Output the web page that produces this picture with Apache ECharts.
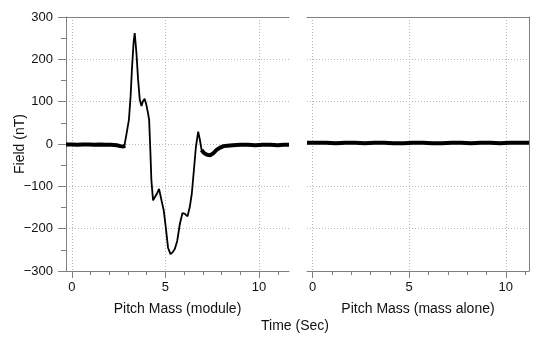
<!DOCTYPE html>
<html>
<head>
<meta charset="utf-8">
<script src="https://cdn.jsdelivr.net/npm/echarts@6/dist/echarts.min.js"></script>
<style>
html,body{margin:0;padding:0;background:#fff;}
#chart{width:550px;height:345px;}
</style>
</head>
<body>
<div id="chart"></div>
<script>
// ---- data ----
var leftStartTime = [-0.31, 0, 0.3, 0.6, 0.9, 1.2, 1.5, 1.8, 2.1, 2.4, 2.6, 2.75, 2.85];
var leftStartField = [-1, -1, -2, -1, -1, -2, -1, -2, -2, -3, -5, -6, -4];

var leftPulseTime = [2.8, 2.91, 3.05, 3.14, 3.21, 3.3, 3.36, 3.45, 3.54, 3.63, 3.72, 3.8, 3.89, 3.98, 4.07, 4.13, 4.2, 4.25, 4.34, 4.43, 4.55, 4.66, 4.79, 4.91, 5.02, 5.14, 5.27, 5.38, 5.5, 5.63, 5.77, 5.91, 6.04, 6.18, 6.3, 6.41, 6.52, 6.63, 6.75, 6.84, 6.93, 7.0];
var leftPulseField = [-6, 21, 57, 113, 176, 240, 262, 216, 152, 105, 90, 101, 107, 93, 73, 57, -22, -86, -133, -137, -117, -106, -133, -157, -197, -245, -260, -256, -248, -229, -189, -163, -165, -171, -149, -117, -62, -6, 29, 10, -14, -18];

var leftTailTime = [6.93, 7.05, 7.2, 7.38, 7.55, 7.73, 7.9, 8.1, 8.3, 8.6, 9.0, 9.4, 9.8, 10.2, 10.6, 11.0, 11.3, 11.6];
var leftTailField = [-14, -21, -25, -27, -22, -14, -9, -5, -4, -3, -2, -2, -3, -2, -2, -3, -2, -2];

var rightTime = [-0.29, 0.2, 0.7, 1.2, 1.7, 2.2, 2.7, 3.2, 3.7, 4.2, 4.7, 5.2, 5.7, 6.2, 6.7, 7.2, 7.7, 8.2, 8.7, 9.2, 9.7, 10.2, 10.7, 11.2];
var rightField = [3, 3, 3, 2, 3, 3, 2, 3, 3, 2, 2, 3, 3, 2, 2, 3, 3, 2, 3, 3, 2, 3, 3, 3];

var xMinorTicks = [0, 1, 2, 3, 4, 5, 6, 7, 8, 9, 10, 11];
var xMajorTicks = [0, 5, 10];
var yMin = -300, yMax = 300, yStep = 100;

var leftTitle = 'Pitch Mass (module)';
var rightTitle = 'Pitch Mass (mass alone)';
var yTitle = 'Field (nT)';
var sharedTitle = 'Time (Sec)';

function pairs(xs, ys) { return xs.map(function (x, i) { return [x, ys[i]]; }); }

var AX = '#808080';
var TXT = '#111111';
var FONT = 'Liberation Sans, Arial, Helvetica, sans-serif';
var GRIDLINE = { show: true, lineStyle: { color: '#b8b8b8', width: 1, type: [1, 2] } };
var minus = function (v) { return String(v).replace('-', '\u2212'); };

function xAxesFor(grid, min, max, title) {
  return [
    { // main bottom axis: minor ticks + labels + name
      type: 'value', gridIndex: grid, position: 'bottom', min: min, max: max,
      axisLine: { show: true, onZero: false, lineStyle: { color: AX, width: 1 } },
      axisTick: { show: true, customValues: xMinorTicks, length: 4, lineStyle: { color: AX } },
      axisLabel: { show: true, customValues: xMajorTicks, margin: 10, color: TXT, fontSize: 13, fontFamily: FONT, formatter: minus },
      splitLine: { show: false },
      name: title, nameLocation: 'middle', nameGap: 31, nameMoveOverlap: false,
      nameTextStyle: { color: TXT, fontSize: 14, fontFamily: FONT }
    },
    { // major ticks (longer)
      type: 'value', gridIndex: grid, position: 'bottom', min: min, max: max,
      axisLine: { show: false, onZero: false },
      axisTick: { show: true, customValues: xMajorTicks, length: 7, lineStyle: { color: AX } },
      axisLabel: { show: false },
      splitLine: { show: false }
    },
    { // top border + vertical gridlines
      type: 'value', gridIndex: grid, position: 'top', min: min, max: max,
      axisLine: { show: true, onZero: false, lineStyle: { color: AX, width: 1 } },
      axisTick: { show: false, customValues: xMajorTicks },
      axisLabel: { show: false, customValues: xMajorTicks },
      splitLine: GRIDLINE
    }
  ];
}

var xAxes = xAxesFor(0, -0.31, 11.6, leftTitle).concat(xAxesFor(1, -0.29, 11.2, rightTitle));

var chart = echarts.init(document.getElementById('chart'), null, { renderer: 'canvas' });
chart.setOption({
  animation: false,
  backgroundColor: '#ffffff',
  grid: [
    { left: 66, top: 17, right: 261, bottom: 74 },
    { left: 307, top: 17, right: 21, bottom: 74 }
  ],
  xAxis: xAxes,
  yAxis: [
    {
      type: 'value', gridIndex: 0, position: 'left', min: yMin, max: yMax, interval: yStep,
      axisLine: { show: true, onZero: false, lineStyle: { color: AX, width: 1 } },
      axisTick: { show: true, length: 8, lineStyle: { color: AX } },
      minorTick: { show: true, splitNumber: 2, length: 5, lineStyle: { color: AX } },
      axisLabel: { margin: 13, color: TXT, fontSize: 13, fontFamily: FONT, formatter: minus },
      splitLine: { show: true, showMinLine: false, showMaxLine: false, lineStyle: GRIDLINE.lineStyle },
      name: yTitle, nameLocation: 'middle', nameGap: 39, nameRotate: 90, nameMoveOverlap: false,
      nameTextStyle: { color: TXT, fontSize: 14, fontFamily: FONT }
    },
    {
      type: 'value', gridIndex: 1, position: 'right', min: yMin, max: yMax, interval: yStep,
      axisLine: { show: true, onZero: false, lineStyle: { color: AX, width: 1 } },
      axisTick: { show: false },
      axisLabel: { show: false },
      splitLine: { show: true, showMinLine: false, showMaxLine: false, lineStyle: GRIDLINE.lineStyle }
    }
  ],
  graphic: [{
    type: 'text', x: 295, y: 326,
    style: { text: sharedTitle, fill: TXT, fontSize: 14, fontFamily: FONT, align: 'center', verticalAlign: 'middle' }
  }],
  series: [
    { type: 'line', xAxisIndex: 0, yAxisIndex: 0, data: pairs(leftStartTime, leftStartField), showSymbol: false, lineStyle: { color: '#000', width: 4 } },
    { type: 'line', xAxisIndex: 0, yAxisIndex: 0, data: pairs(leftPulseTime, leftPulseField), showSymbol: false, lineStyle: { color: '#000', width: 1.8 } },
    { type: 'line', xAxisIndex: 0, yAxisIndex: 0, data: pairs(leftTailTime, leftTailField), showSymbol: false, lineStyle: { color: '#000', width: 4 } },
    { type: 'line', xAxisIndex: 3, yAxisIndex: 1, data: pairs(rightTime, rightField), showSymbol: false, lineStyle: { color: '#000', width: 4 } }
  ]
});
</script>
</body>
</html>
